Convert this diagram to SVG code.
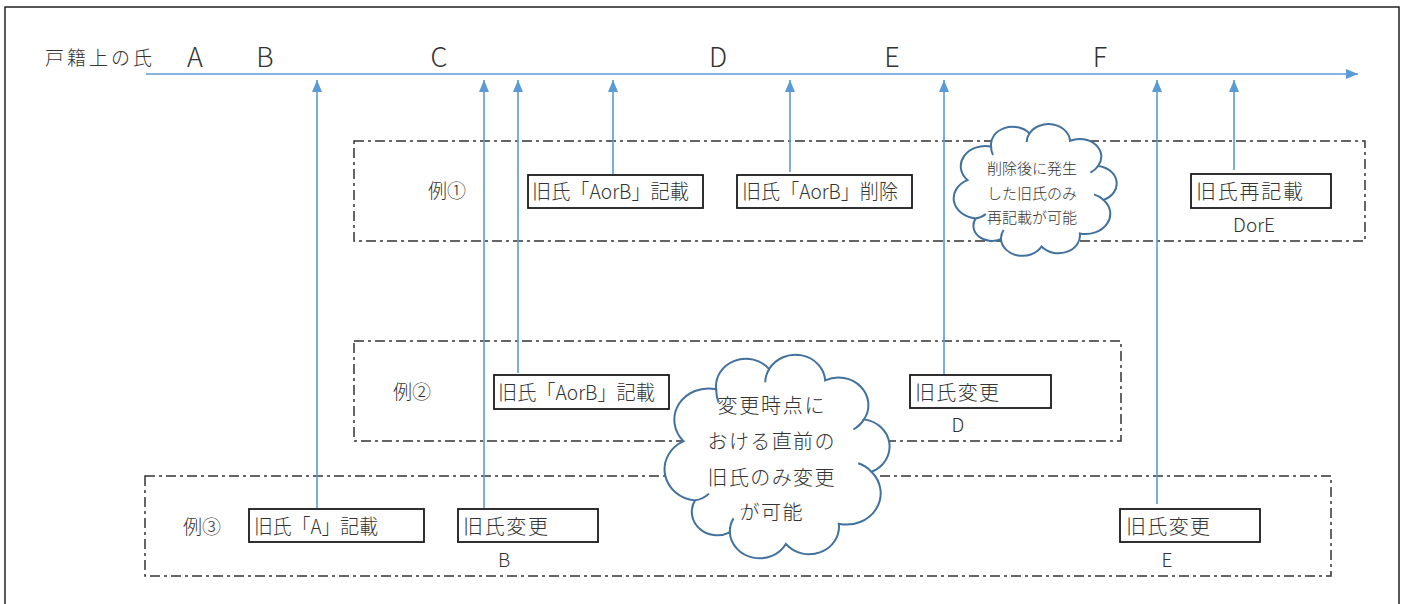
<svg xmlns="http://www.w3.org/2000/svg" width="1407" height="604" viewBox="0 0 1407 604">
<style>
text{font-family:"Noto Sans CJK JP","Noto Sans",sans-serif;fill:#333;font-weight:300}
.lbl{font-size:19px}
.big{font-size:27px}
.bt{font-size:20px}
.box{fill:#fff;stroke:#1a1a1a;stroke-width:1.8}
.grp{fill:none;stroke:#333;stroke-width:1.5;stroke-dasharray:10 4 3 4}
.arr{stroke:#5B9BD5;stroke-width:1.6;fill:none}
.cloud{fill:#fff;stroke:#41719C;stroke-width:2;vector-effect:non-scaling-stroke}
.inner{fill:none;stroke:#41719C;stroke-width:2;vector-effect:non-scaling-stroke}
</style>
<defs>
<marker id="ah" markerUnits="userSpaceOnUse" viewBox="0 0 12 10" refX="12" refY="5" markerWidth="12" markerHeight="10" orient="auto">
<path d="M0,0 L12,5 L0,10 z" fill="#5B9BD5"/>
</marker>
</defs>
<rect width="1407" height="604" fill="#fff"/>
<path d="M5,604 V7 H1399 V604" fill="none" stroke="#222" stroke-width="1.5"/>

<g id="timeline">
<text class="lbl" x="45" y="65" textLength="107">戸籍上の氏</text>
<text class="big" x="195" y="67" text-anchor="middle">A</text>
<text class="big" x="265" y="67" text-anchor="middle">B</text>
<text class="big" x="439" y="67" text-anchor="middle">C</text>
<text class="big" x="718" y="67" text-anchor="middle">D</text>
<text class="big" x="892" y="67" text-anchor="middle">E</text>
<text class="big" x="1100" y="67" text-anchor="middle">F</text>
</g>

<g id="example1">
<rect class="grp" x="354" y="141" width="1011" height="100"/>
<text class="lbl" x="428" y="198">例①</text>
</g>
<g id="example2">
<rect class="grp" x="354" y="341" width="767" height="100"/>
<text class="lbl" x="393" y="399">例②</text>
</g>
<g id="example3">
<rect class="grp" x="145" y="476" width="1186" height="100"/>
<text class="lbl" x="183" y="534">例③</text>
</g>

<g id="connectors">
<line class="arr" x1="146" y1="74" x2="1358" y2="74" marker-end="url(#ah)"/>
<line class="arr" x1="317" y1="509" x2="317" y2="80" marker-end="url(#ah)"/>
<line class="arr" x1="484" y1="509" x2="484" y2="80" marker-end="url(#ah)"/>
<line class="arr" x1="518" y1="373" x2="518" y2="80" marker-end="url(#ah)"/>
<line class="arr" x1="613" y1="174" x2="613" y2="80" marker-end="url(#ah)"/>
<line class="arr" x1="790" y1="172" x2="790" y2="80" marker-end="url(#ah)"/>
<line class="arr" x1="944" y1="375" x2="944" y2="80" marker-end="url(#ah)"/>
<line class="arr" x1="1157" y1="504" x2="1157" y2="80" marker-end="url(#ah)"/>
<line class="arr" x1="1234" y1="170" x2="1234" y2="80" marker-end="url(#ah)"/>
</g>

<g id="e1-record">
<rect class="box" x="528" y="175" width="175" height="33"/>
<text class="bt" x="532" y="199" textLength="157" lengthAdjust="spacingAndGlyphs">旧氏「AorB」記載</text>
</g>
<g id="e1-delete">
<rect class="box" x="737" y="175" width="175" height="33"/>
<text class="bt" x="742" y="199" textLength="156" lengthAdjust="spacingAndGlyphs">旧氏「AorB」削除</text>
</g>
<g id="e1-rerecord">
<rect class="box" x="1191" y="174" width="140" height="34"/>
<text class="bt" x="1196" y="199" textLength="107">旧氏再記載</text>
<text class="lbl" x="1254" y="232" text-anchor="middle">DorE</text>
</g>
<g id="e2-record">
<rect class="box" x="494" y="375" width="175" height="34"/>
<text class="bt" x="498" y="400" textLength="157" lengthAdjust="spacingAndGlyphs">旧氏「AorB」記載</text>
</g>
<g id="e2-change">
<rect class="box" x="910" y="375" width="141" height="33"/>
<text class="bt" x="915" y="400" textLength="84">旧氏変更</text>
<text class="lbl" x="958" y="432" text-anchor="middle">D</text>
</g>
<g id="e3-record">
<rect class="box" x="249" y="509" width="175" height="33"/>
<text class="bt" x="254" y="534" textLength="124" lengthAdjust="spacingAndGlyphs">旧氏「A」記載</text>
</g>
<g id="e3-change-b">
<rect class="box" x="458" y="509" width="140" height="33"/>
<text class="bt" x="463" y="534" textLength="85">旧氏変更</text>
<text class="lbl" x="504" y="567" text-anchor="middle">B</text>
</g>
<g id="e3-change-e">
<rect class="box" x="1120" y="509" width="140" height="33"/>
<text class="bt" x="1126" y="534" textLength="84">旧氏変更</text>
<text class="lbl" x="1167" y="567" text-anchor="middle">E</text>
</g>

<g id="cloud-small">
<g transform="translate(946.9,117.2) scale(0.886,0.728)">
<path class="cloud" d="M23.2,86.4 A27.8,27.8 0 0 1 49.9,40.3 A24.4,24.4 0 0 1 93.2,22.3 A24.4,24.4 0 0 1 139,32.4 A24.4,24.4 0 0 1 170.7,67 A24.4,24.4 0 0 1 176.8,113.6 A27.8,27.8 0 0 1 150.1,159.7 A24.4,24.4 0 0 1 106.8,177.7 A24.4,24.4 0 0 1 61,167.5 A21,21 0 0 1 32.5,139 A27.8,27.8 0 0 1 23.2,86.4 Z"/>
<path class="inner" d="M49.9,40.3 A27.8,27.8 0 0 0 52,52 M93.2,22.3 A24.4,24.4 0 0 0 90,34 M170.7,67 A24.4,24.4 0 0 1 162,76 M176.8,113.6 A24.4,24.4 0 0 0 166,106 M61,167.5 A24.4,24.4 0 0 1 64,155 M32.5,139 A21,21 0 0 0 44,133"/>
</g>
<text x="1032" y="174" font-size="15" text-anchor="middle">削除後に発生</text>
<text x="1032" y="199" font-size="15" text-anchor="middle">した旧氏のみ</text>
<text x="1032" y="223" font-size="15" text-anchor="middle">再記載が可能</text>
</g>
<g id="cloud-big">
<g transform="translate(655.2,344) scale(1.223,1.125)">
<path class="cloud" d="M23.2,86.4 A27.8,27.8 0 0 1 49.9,40.3 A24.4,24.4 0 0 1 93.2,22.3 A24.4,24.4 0 0 1 139,32.4 A24.4,24.4 0 0 1 170.7,67 A24.4,24.4 0 0 1 176.8,113.6 A27.8,27.8 0 0 1 150.1,159.7 A24.4,24.4 0 0 1 106.8,177.7 A24.4,24.4 0 0 1 61,167.5 A21,21 0 0 1 32.5,139 A27.8,27.8 0 0 1 23.2,86.4 Z"/>
<path class="inner" d="M49.9,40.3 A27.8,27.8 0 0 0 52,52 M93.2,22.3 A24.4,24.4 0 0 0 90,34 M170.7,67 A24.4,24.4 0 0 1 162,76 M176.8,113.6 A24.4,24.4 0 0 0 166,106 M61,167.5 A24.4,24.4 0 0 1 64,155 M32.5,139 A21,21 0 0 0 44,133"/>
</g>
<text x="771" y="413" font-size="20" text-anchor="middle" textLength="107">変更時点に</text>
<text x="771" y="449" font-size="20" text-anchor="middle" textLength="127">おける直前の</text>
<text x="771" y="485" font-size="20" text-anchor="middle" textLength="127">旧氏のみ変更</text>
<text x="771" y="520" font-size="20" text-anchor="middle" textLength="63">が可能</text>
</g>
</svg>
